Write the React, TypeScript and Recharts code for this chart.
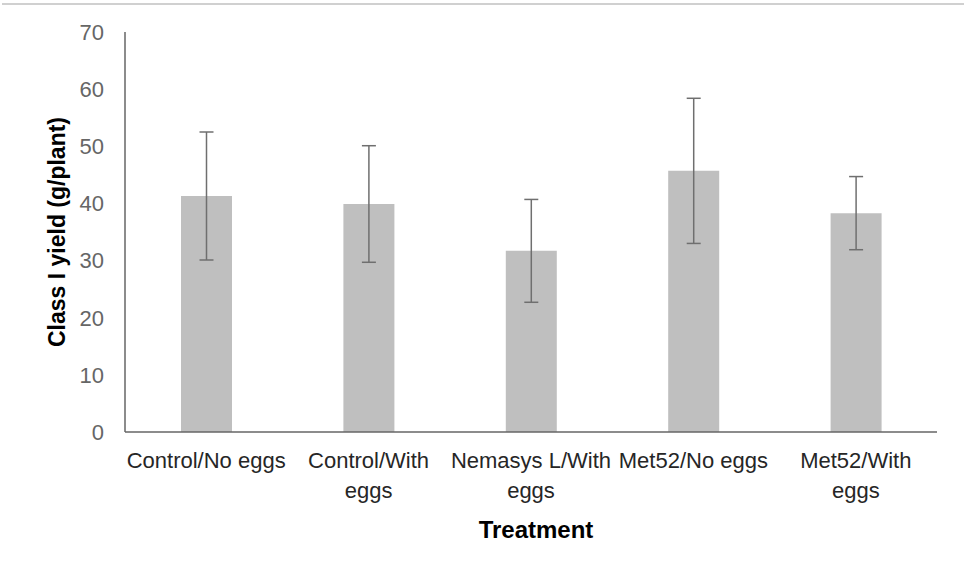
import { BarChart, Bar, XAxis, YAxis, ErrorBar, Label } from 'recharts';

// Class I yield per treatment, mean ± error
const treatments = [
  'Control/No eggs',
  'Control/With eggs',
  'Nemasys L/With eggs',
  'Met52/No eggs',
  'Met52/With eggs',
];
const tickLines = [
  ['Control/No eggs'],
  ['Control/With', 'eggs'],
  ['Nemasys L/With', 'eggs'],
  ['Met52/No eggs'],
  ['Met52/With', 'eggs'],
];
const meanYield = [41.3, 39.9, 31.7, 45.7, 38.3];
const errYield = [11.2, 10.2, 9.0, 12.7, 6.4];
const yTicks = [0, 10, 20, 30, 40, 50, 60, 70];

const data = treatments.map((name, i) => ({
  name,
  yield: meanYield[i],
  err: errYield[i],
}));

const FONT = '"Liberation Sans", Arial, sans-serif';

const TreatmentTick = ({ x, y, payload }: any) => {
  const idx = treatments.indexOf(payload.value);
  const lines = idx >= 0 ? tickLines[idx] : [payload.value];
  return (
    <text x={x} y={y + 28} textAnchor="middle" fill="#262626" fontSize={22} fontFamily={FONT}>
      {lines.map((line: string, i: number) => (
        <tspan key={i} x={x} dy={i === 0 ? 0 : 30}>
          {line}
        </tspan>
      ))}
    </text>
  );
};

const YTitle = ({ viewBox }: any) => {
  const cx = 57;
  const cy = viewBox.y + viewBox.height / 2;
  return (
    <text
      x={cx}
      y={cy}
      transform={`rotate(-90, ${cx}, ${cy})`}
      textAnchor="middle"
      dominantBaseline="central"
      fontSize={23}
      fontWeight="bold"
      fontFamily={FONT}
      fill="#000"
    >
      Class I yield (g/plant)
    </text>
  );
};

const XTitle = ({ viewBox }: any) => {
  const cx = viewBox.x + viewBox.width / 2 + 5;
  return (
    <text
      x={cx}
      y={538}
      textAnchor="middle"
      fontSize={24}
      fontWeight="bold"
      fontFamily={FONT}
      fill="#000"
    >
      Treatment
    </text>
  );
};

export default function App() {
  return (
    <div style={{ position: 'absolute', left: 0, top: 0, width: 964, height: 579, background: '#fff' }}>
      <div style={{ position: 'absolute', left: 2, right: 0, top: 3, height: 2, background: '#d0d0d0' }} />
      <BarChart
        width={964}
        height={579}
        data={data}
        margin={{ top: 32, right: 27, left: 0, bottom: 67 }}
      >
        <XAxis
          dataKey="name"
          height={80}
          tickLine={false}
          axisLine={{ stroke: '#666', strokeWidth: 1.5 }}
          tick={<TreatmentTick />}
          interval={0}
        >
          <Label content={<XTitle />} />
        </XAxis>
        <YAxis
          width={125}
          domain={[0, 70]}
          ticks={yTicks}
          tickLine={false}
          tickMargin={15}
          axisLine={{ stroke: '#666', strokeWidth: 1.5 }}
          tick={{ fill: '#666', fontSize: 22, fontFamily: FONT }}
        >
          <Label content={<YTitle />} />
        </YAxis>
        <Bar dataKey="yield" fill="#bfbfbf" barSize={51} isAnimationActive={false}>
          <ErrorBar
            dataKey="err"
            width={7}
            stroke="#6f6f6f"
            strokeWidth={1.5}
            direction="y"
            isAnimationActive={false}
          />
        </Bar>
      </BarChart>
    </div>
  );
}
